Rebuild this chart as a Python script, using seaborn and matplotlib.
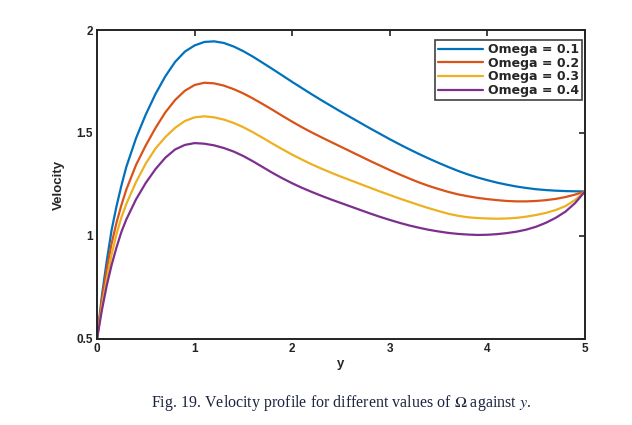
import matplotlib
matplotlib.use("Agg")
import matplotlib.pyplot as plt
import seaborn as sns
import pandas as pd

# ---- data ----
y_vals = [0.0, 0.05, 0.1, 0.15, 0.2, 0.25, 0.3, 0.4, 0.5, 0.6, 0.7, 0.8, 0.9,
          1.0, 1.1, 1.2, 1.3, 1.4, 1.5, 1.6, 1.7, 1.8, 1.9,
          2.0, 2.1, 2.2, 2.3, 2.4, 2.5, 2.6, 2.7, 2.8, 2.9,
          3.0, 3.1, 3.2, 3.3, 3.4, 3.5, 3.6, 3.7, 3.8, 3.9,
          4.0, 4.1, 4.2, 4.3, 4.4, 4.5, 4.6, 4.7, 4.8, 4.9, 5.0]

vel_omega_01 = [0.50, 0.71, 0.88, 1.03, 1.145, 1.245, 1.335, 1.475, 1.59, 1.69, 1.775, 1.845, 1.895,
                1.925, 1.942, 1.945, 1.937, 1.92, 1.897, 1.87, 1.84, 1.81, 1.779,
                1.748, 1.718, 1.688, 1.659, 1.631, 1.603, 1.576, 1.549, 1.522, 1.496,
                1.47, 1.445, 1.421, 1.398, 1.376, 1.355, 1.335, 1.316, 1.299, 1.284,
                1.271, 1.259, 1.249, 1.24, 1.233, 1.227, 1.223, 1.22, 1.218, 1.217, 1.216]
vel_omega_02 = [0.50, 0.69, 0.84, 0.965, 1.065, 1.15, 1.225, 1.345, 1.44, 1.525, 1.60, 1.66, 1.705,
                1.733, 1.744, 1.741, 1.73, 1.713, 1.692, 1.667, 1.64, 1.612, 1.583,
                1.555, 1.528, 1.503, 1.479, 1.456, 1.433, 1.41, 1.387, 1.364, 1.342,
                1.32, 1.299, 1.279, 1.26, 1.243, 1.228, 1.214, 1.202, 1.193, 1.185,
                1.179, 1.174, 1.17, 1.168, 1.168, 1.17, 1.174, 1.18, 1.189, 1.201, 1.216]
vel_omega_03 = [0.50, 0.66, 0.79, 0.91, 1.01, 1.09, 1.155, 1.262, 1.352, 1.425, 1.48, 1.525, 1.558,
                1.576, 1.581, 1.576, 1.565, 1.549, 1.528, 1.503, 1.476, 1.448, 1.421,
                1.395, 1.371, 1.348, 1.327, 1.307, 1.288, 1.27, 1.252, 1.234, 1.216,
                1.199, 1.182, 1.166, 1.15, 1.135, 1.121, 1.108, 1.098, 1.091, 1.087,
                1.085, 1.084, 1.085, 1.088, 1.094, 1.102, 1.112, 1.126, 1.145, 1.175, 1.216]
vel_omega_04 = [0.50, 0.64, 0.76, 0.86, 0.945, 1.02, 1.08, 1.178, 1.258, 1.325, 1.38, 1.42, 1.442,
                1.451, 1.448, 1.44, 1.427, 1.41, 1.388, 1.362, 1.334, 1.306, 1.28,
                1.256, 1.234, 1.214, 1.195, 1.177, 1.16, 1.143, 1.126, 1.109, 1.093,
                1.078, 1.064, 1.051, 1.04, 1.03, 1.022, 1.015, 1.01, 1.007, 1.005,
                1.006, 1.009, 1.014, 1.021, 1.031, 1.045, 1.064, 1.088, 1.118, 1.16, 1.216]

series_labels = ["Omega = 0.1", "Omega = 0.2", "Omega = 0.3", "Omega = 0.4"]
series_colors = ["#0072BD", "#D95319", "#EDB120", "#7E2F8E"]

x_ticks = [0, 1, 2, 3, 4, 5]
x_tick_labels = ["0", "1", "2", "3", "4", "5"]
y_ticks = [0.5, 1, 1.5, 2]
y_tick_labels = ["0.5", "1", "1.5", "2"]

caption = "Fig. 19. Velocity profile for different values of $\\mathit{\\Omega}$ against $\\mathit{y}$."

# ---- build long table ----
frames = []
for lab, vals in zip(series_labels, [vel_omega_01, vel_omega_02, vel_omega_03, vel_omega_04]):
    frames.append(pd.DataFrame({"y": y_vals, "Velocity": vals, "series": lab}))
df = pd.concat(frames, ignore_index=True)

sns.set_style("white")
plt.rcParams["font.family"] = ["Liberation Sans", "DejaVu Sans"]
plt.rcParams["mathtext.fontset"] = "stix"

fig = plt.figure(figsize=(6.32, 4.25), dpi=100)
ax = fig.add_axes([0.1535, 0.2024, 0.772, 0.727])

sns.lineplot(data=df, x="y", y="Velocity", hue="series", hue_order=series_labels,
             palette=series_colors, linewidth=1.6, ax=ax, sort=False)

ax.set_xlim(0, 5)
ax.set_ylim(0.5, 2)
ax.set_xticks(x_ticks)
ax.set_xticklabels(x_tick_labels, fontweight="bold", fontsize=8.5)
ax.set_yticks(y_ticks)
ax.set_yticklabels(y_tick_labels, fontweight="bold", fontsize=8.5)
ax.tick_params(direction="in", top=True, right=True, length=4, width=1.2,
               colors="#222222", pad=3)
for s in ax.spines.values():
    s.set_visible(True)
    s.set_linewidth(1.4)
    s.set_color("#222222")

ax.set_xlabel("y", fontweight="bold", fontsize=9.5, labelpad=2)
ax.set_ylabel("Velocity", fontweight="bold", fontsize=9.5, labelpad=8)

leg = ax.legend(loc="upper right", bbox_to_anchor=(0.994, 0.968), frameon=True,
                fancybox=False, edgecolor="#111111", handlelength=3.6, borderpad=0.25,
                labelspacing=0.05, handletextpad=0.35, borderaxespad=0.0,
                prop={"weight": "bold", "size": 9, "family": "DejaVu Sans"})
leg.get_frame().set_linewidth(1.2)
for line in leg.get_lines():
    line.set_linewidth(1.6)

fig.text(0.54, 0.052, caption, ha="center", va="center", fontsize=11.5,
         family="Liberation Serif", color="#1c2540")

fig.savefig("out.png", dpi=100, facecolor="white")
